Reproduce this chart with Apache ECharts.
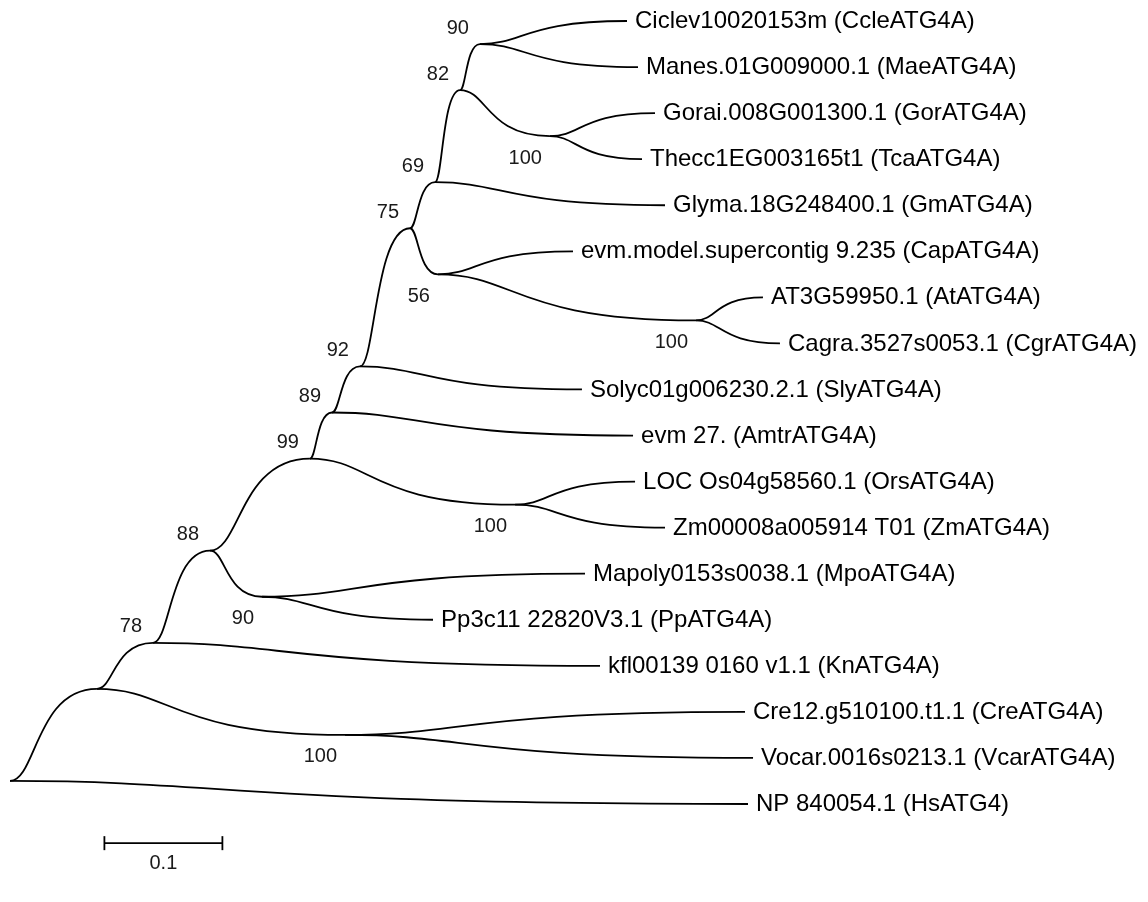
<!DOCTYPE html>
<html><head><meta charset="utf-8">
<script src="https://cdn.jsdelivr.net/npm/echarts@6/dist/echarts.min.js"></script>
<style>html,body{margin:0;padding:0;background:#fff}#c{width:1148px;height:902px}</style>
</head><body><div id="c"></div>
<script>
// ---- DATA ----
const leafNames = [
  "Ciclev10020153m (CcleATG4A)", "Manes.01G009000.1 (MaeATG4A)", "Gorai.008G001300.1 (GorATG4A)",
  "Thecc1EG003165t1 (TcaATG4A)", "Glyma.18G248400.1 (GmATG4A)", "evm.model.supercontig 9.235 (CapATG4A)",
  "AT3G59950.1 (AtATG4A)", "Cagra.3527s0053.1 (CgrATG4A)", "Solyc01g006230.2.1 (SlyATG4A)",
  "evm 27. (AmtrATG4A)", "LOC Os04g58560.1 (OrsATG4A)", "Zm00008a005914 T01 (ZmATG4A)",
  "Mapoly0153s0038.1 (MpoATG4A)", "Pp3c11 22820V3.1 (PpATG4A)", "kfl00139 0160 v1.1 (KnATG4A)",
  "Cre12.g510100.t1.1 (CreATG4A)", "Vocar.0016s0213.1 (VcarATG4A)", "NP 840054.1 (HsATG4)"
];
// distance of each leaf from the root (substitutions per site)
const leafDepth = [0.5229, 0.5322, 0.5466, 0.5356, 0.5551, 0.4771, 0.6381, 0.6525, 0.4847,
                   0.5280, 0.5297, 0.5551, 0.4873, 0.3585, 0.5000, 0.6229, 0.6297, 0.6254];
// internal nodes
const nodeIds = ["root", "A", "n78", "n88", "n99", "n89", "n92", "n75", "n69", "n82", "n90a", "nGT", "n56", "nAC", "nLZ", "n90b", "nCV"];
const nodeChildren = [
  ["A", "L17"], ["n78", "nCV"], ["n88", "L14"], ["n99", "n90b"], ["n89", "nLZ"], ["n92", "L9"],
  ["n75", "L8"], ["n69", "n56"], ["n82", "L4"], ["n90a", "nGT"], ["L0", "L1"], ["L2", "L3"],
  ["L5", "nAC"], ["L6", "L7"], ["L10", "L11"], ["L12", "L13"], ["L15", "L16"]
];
const nodeDepth = [0, 0.0737, 0.1212, 0.1695, 0.2542, 0.2729, 0.2966, 0.3390, 0.3602, 0.3814,
                   0.3983, 0.4576, 0.3627, 0.5814, 0.4280, 0.2136, 0.2839];
const nodeSupport = [null, null, 78, 88, 99, 89, 92, 75, 69, 82, 90, 100, 56, 100, 100, 90, 100];
const scaleBarLength = 0.1;
const scaleBarLabel = "0.1";

// ---- BUILD TREE GEOMETRY (in data units) ----
const idx = {}; nodeIds.forEach((id, i) => idx[id] = i);
function firstLeaf(ref) { return ref[0] === 'L' ? +ref.slice(1) : firstLeaf(nodeChildren[idx[ref]][0]); }
function lastLeaf(ref) { return ref[0] === 'L' ? +ref.slice(1) : lastLeaf(nodeChildren[idx[ref]][1]); }
function posOf(ref) {
  if (ref[0] === 'L') { const k = +ref.slice(1); return [leafDepth[k], k]; }
  const i = idx[ref], ch = nodeChildren[i];
  return [nodeDepth[i], (lastLeaf(ch[0]) + firstLeaf(ch[1])) / 2];
}
const edges = [];
const supports = [];
nodeIds.forEach((id, i) => {
  const p = posOf(id);
  nodeChildren[i].forEach((c, ci) => {
    const q = posOf(c);
    edges.push([p[0], p[1], q[0], q[1]]);
    if (c[0] !== 'L') {
      const j = idx[c];
      if (nodeSupport[j] != null) supports.push([q[0], q[1], nodeSupport[j], ci]);
    }
  });
});
const leafPts = leafNames.map((n, k) => [leafDepth[k], k, n]);

// ---- CHART ----
const chart = echarts.init(document.getElementById('c'), null, { renderer: 'canvas' });
const LINE = { stroke: '#000', lineWidth: 1.8, fill: null };
const BOOT_FONT = '20px "Liberation Sans", Arial, sans-serif';
chart.setOption({
  animation: false,
  grid: { left: 10, right: 76, top: 21, bottom: 98 },
  xAxis: { type: 'value', min: 0, max: 0.9, show: false },
  yAxis: { type: 'value', min: 0, max: 17, inverse: true, show: false },
  series: [
    {
      type: 'custom', clip: false, data: edges,
      renderItem: function (params, api) {
        const p = api.coord([api.value(0), api.value(1)]);
        const c = api.coord([api.value(2), api.value(3)]);
        const cx = p[0] + 0.3 * (c[0] - p[0]);
        return {
          type: 'bezierCurve',
          shape: { x1: p[0], y1: p[1], x2: c[0], y2: c[1], cpx1: cx, cpy1: p[1], cpx2: cx, cpy2: c[1] },
          style: LINE
        };
      }
    },
    {
      type: 'custom', clip: false, data: leafPts,
      renderItem: function (params, api) {
        const c = api.coord([api.value(0), api.value(1)]);
        return {
          type: 'text',
          style: { x: c[0] + 8, y: c[1] + 0.5, text: leafPts[params.dataIndex][2], fill: '#000',
                   font: '24px "Liberation Sans", Arial, sans-serif', textAlign: 'left', textVerticalAlign: 'middle' }
        };
      }
    },
    {
      type: 'custom', clip: false, data: supports,
      renderItem: function (params, api) {
        const c = api.coord([api.value(0), api.value(1)]);
        const below = api.value(3) === 1;
        return {
          type: 'text',
          style: { x: c[0] - (below ? 8 : 11), y: c[1] + (below ? 22 : -16), text: String(api.value(2)), fill: '#1a1a1a',
                   font: BOOT_FONT, textAlign: 'right', textVerticalAlign: 'middle' }
        };
      }
    },
    {
      type: 'custom', clip: false, data: [[0.08, 17.85, scaleBarLength]],
      renderItem: function (params, api) {
        const a = api.coord([api.value(0), api.value(1)]);
        const b = api.coord([api.value(0) + api.value(2), api.value(1)]);
        return {
          type: 'group', children: [
            { type: 'line', shape: { x1: a[0], y1: a[1], x2: b[0], y2: b[1] }, style: LINE },
            { type: 'line', shape: { x1: a[0], y1: a[1] - 7, x2: a[0], y2: a[1] + 7 }, style: LINE },
            { type: 'line', shape: { x1: b[0], y1: b[1] - 7, x2: b[0], y2: b[1] + 7 }, style: LINE },
            { type: 'text', style: { x: (a[0] + b[0]) / 2, y: a[1] + 20, text: scaleBarLabel, fill: '#1a1a1a',
              font: BOOT_FONT, textAlign: 'center', textVerticalAlign: 'middle' } }
          ]
        };
      }
    }
  ]
});
</script></body></html>
